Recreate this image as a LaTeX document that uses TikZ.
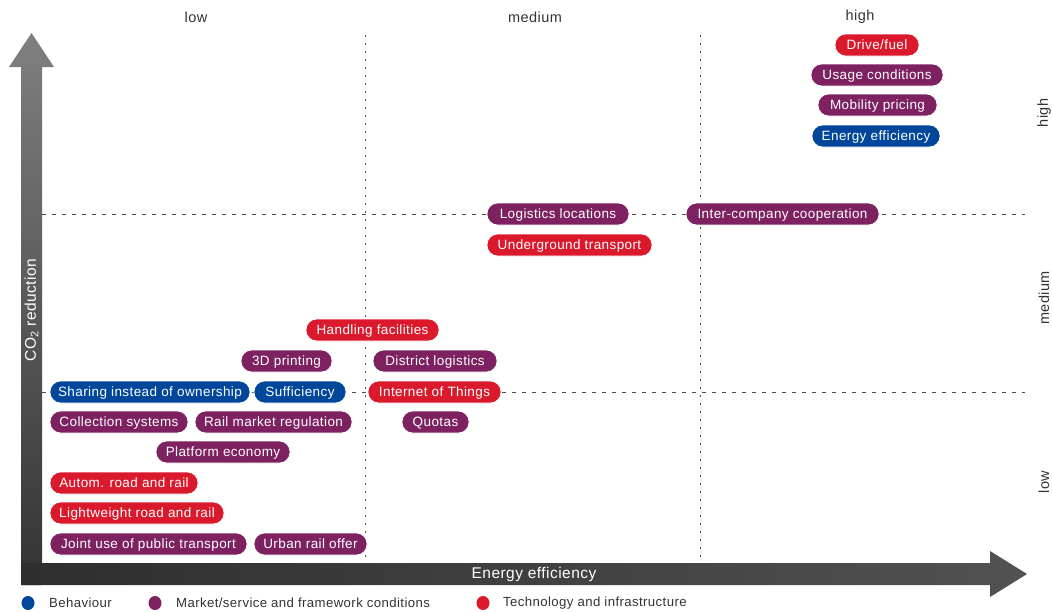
\documentclass[tikz,border=0pt]{standalone}
\usepackage{fontspec}
\setmainfont{Liberation Sans}[LetterSpace=3]
\definecolor{cred}{HTML}{DA1A2C}
\definecolor{cpurple}{HTML}{7D2160}
\definecolor{cblue}{HTML}{00479B}
\definecolor{ctext}{HTML}{333333}
\tikzset{
  pill/.style={rectangle, rounded corners=10.5pt, minimum height=22pt, inner xsep=0pt, inner ysep=0pt,
    text=white, font=\fontsize{13.5}{13.5}\selectfont, draw=white, line width=0.8pt,
    text height=9.6pt, text depth=0pt},
  rp/.style={pill, fill=cred},
  pp/.style={pill, fill=cpurple},
  bp/.style={pill, fill=cblue},
  hdr/.style={text=ctext, font=\fontsize{14.5}{14.5}\selectfont, inner sep=0pt},
  leg/.style={text=ctext, font=\fontsize{13.2}{13.2}\selectfont, inner sep=0pt, anchor=west},
  grid/.style={draw=black!70, line width=0.8pt},
}
\begin{document}
\begin{tikzpicture}[x=1pt,y=-1pt]
\useasboundingbox (0,0) rectangle (1052,611);
% grid lines
\draw[grid, dash pattern=on 2pt off 6pt] (365,35) -- (365,563);
\draw[grid, dash pattern=on 2pt off 6pt] (700,35) -- (700,563);
\draw[grid, dash pattern=on 4pt off 6pt] (42,214) -- (1025,214);
\draw[grid, dash pattern=on 4pt off 6pt] (42,392) -- (1025,392);
% axes
\shade[top color=black!50, bottom color=black!80] (21,67) -- (9,67) -- (31.5,33) -- (54,67) -- (42,67) -- (42,585) -- (21,585) -- cycle;
\shade[left color=black!82, right color=black!68] (21,563) -- (990,563) -- (990,551) -- (1027,574) -- (990,597) -- (990,585) -- (21,585) -- cycle;
\node[text=white, font=\fontsize{15.5}{15.5}\selectfont, inner sep=0pt] (xlab) at (534,574) {Energy efficiency};
\node[text=white, font=\fontsize{15.5}{15.5}\selectfont, inner sep=0pt, rotate=90] (ylab) at (31.5,310) {CO\textsubscript{2} reduction};
% headers
\node[hdr] (hlow) at (196,17) {low};
\node[hdr] (hmed) at (535,17) {medium};
\node[hdr] (hhigh) at (860,17) {high};
\node[hdr, rotate=90] (vhigh) at (1044,113) {high};
\node[hdr, rotate=90] (vmed) at (1044,298) {medium};
\node[hdr, rotate=90] (vlow) at (1044,482) {low};
% pills
\node[rp, minimum width=84pt] (drive) at (877,45) {Drive/fuel};
\node[pp, minimum width=132pt] (usage) at (877,75) {Usage conditions};
\node[pp, minimum width=119pt] (mobility) at (877.5,105) {Mobility pricing};
\node[bp, minimum width=128pt] (energy) at (876,136) {Energy efficiency};
\node[pp, minimum width=142pt] (logloc) at (558,214) {Logistics locations};
\node[rp, minimum width=165pt] (underground) at (569.5,245) {Underground transport};
\node[pp, minimum width=193pt] (intercomp) at (782.5,214) {Inter-company cooperation};
\node[rp, minimum width=133pt] (handling) at (372.5,330) {Handling facilities};
\node[pp, minimum width=91pt] (printing) at (286.5,361) {3D printing};
\node[pp, minimum width=124pt] (district) at (435,361) {District logistics};
\node[bp, minimum width=200pt] (sharing) at (150,392) {Sharing instead of ownership};
\node[bp, minimum width=92pt] (suff) at (300,392) {Sufficiency};
\node[rp, minimum width=133pt] (iot) at (434.5,392) {Internet of Things};
\node[pp, minimum width=138pt] (collection) at (119,422) {Collection systems};
\node[pp, minimum width=157pt] (railmarket) at (273.5,422) {Rail market regulation};
\node[pp, minimum width=67pt] (quotas) at (435.5,422) {Quotas};
\node[pp, minimum width=134pt] (platform) at (223,452) {Platform economy};
\node[rp, minimum width=148pt] (autom) at (124,483) {Autom. road and rail};
\node[rp, minimum width=174pt] (lightweight) at (137,513) {Lightweight road and rail};
\node[pp, minimum width=197pt] (joint) at (148.5,544) {Joint use of public transport};
\node[pp, minimum width=113pt] (urban) at (310.5,544) {Urban rail offer};
% legend
\fill[cblue] (28,603) circle[x radius=6.5pt, y radius=7pt];
\node[leg] (lbeh) at (49,603) {Behaviour};
\fill[cpurple] (155,603) circle[x radius=6.5pt, y radius=7pt];
\node[leg] (lmkt) at (176,603) {Market/service and framework conditions};
\fill[cred] (483,603) circle[x radius=6.5pt, y radius=7pt];
\node[leg] (ltech) at (503,603) {Technology and infrastructure};
\end{tikzpicture}
\end{document}
